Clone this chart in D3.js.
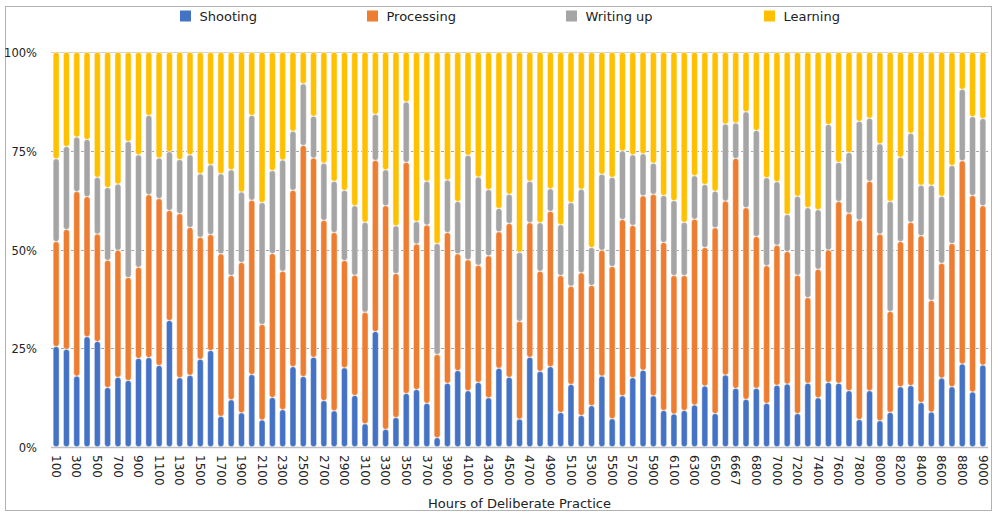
<!DOCTYPE html>
<html><head><meta charset="utf-8">
<script src="https://cdn.jsdelivr.net/npm/d3@7/dist/d3.min.js"></script>
<style>body{margin:0;background:#fff} svg{display:block;font-family:"DejaVu Sans",sans-serif}</style>
</head><body><svg id="c" width="1000" height="530"></svg>
<script>
const categories = ["100","200","300","400","500","600","700","800","900","1000",
"1100","1200","1300","1400","1500","1600","1700","1800","1900","2000",
"2100","2200","2300","2400","2500","2600","2700","2800","2900","3000",
"3100","3200","3300","3400","3500","3600","3700","3800","3900","4000",
"4100","4200","4300","4400","4500","4600","4700","4800","4900","5000",
"5100","5200","5300","5400","5500","5600","5700","5800","5900","6000",
"6100","6200","6300","6400","6500","6600","6667","6700","6800","6900",
"7000","7100","7200","7300","7400","7500","7600","7700","7800","7900",
"8000","8100","8200","8300","8400","8500","8600","8700","8800","8900","9000"];

const shooting = [25.4,24.7,17.9,27.9,26.7,15.0,17.6,16.8,22.4,22.6,
20.6,32.0,17.5,18.1,22.2,24.4,7.7,11.9,8.6,18.3,
6.8,12.5,9.4,20.3,17.8,22.7,11.7,9.1,20.0,13.0,
5.8,29.2,4.4,7.4,13.5,14.5,11.0,2.3,16.1,19.3,
14.2,16.3,12.4,19.9,17.6,7.0,22.7,19.1,20.3,8.7,
15.8,7.9,10.4,17.9,7.1,12.9,17.5,19.4,12.9,9.2,
8.3,9.2,10.6,15.4,8.4,18.2,14.8,12.0,14.8,11.0,
15.6,15.9,8.4,16.1,12.4,16.3,16.1,14.2,6.9,14.2,
6.6,8.7,15.2,15.5,11.2,8.8,17.4,15.2,21.0,13.9,20.7];

const processing = [26.6,30.4,46.8,35.5,27.2,32.3,32.2,26.1,23.1,41.3,
42.3,27.9,41.6,37.5,30.9,29.4,41.2,31.5,38.1,44.2,
24.2,36.5,35.1,44.7,58.6,50.5,45.7,45.2,27.2,30.5,
28.3,43.4,56.7,36.5,58.6,36.9,45.2,21.1,38.2,29.6,
33.2,29.7,36.0,34.6,39.0,24.8,34.1,25.4,39.4,34.7,
24.9,36.2,30.5,31.9,38.6,44.7,38.6,44.2,51.1,42.6,
35.1,34.2,47.1,35.1,47.1,44.1,58.3,48.6,38.5,34.9,
35.5,33.6,35.1,21.7,32.6,33.6,46.1,45.0,50.6,53.1,
47.3,25.6,36.8,41.4,42.3,28.3,29.1,36.3,51.5,49.8,40.4];

const writingUp = [21.0,21.0,13.8,14.5,14.4,18.4,16.8,34.5,28.5,20.1,
10.3,14.9,13.7,18.4,16.1,17.7,20.3,26.8,17.9,21.5,
30.9,21.0,28.2,15.0,15.6,10.6,14.5,13.0,17.8,17.6,
22.8,11.7,9.1,12.1,15.3,5.7,11.1,28.1,13.3,13.3,
26.5,22.4,16.8,5.9,7.4,17.5,10.5,12.3,5.7,12.9,
21.2,21.2,9.6,19.3,22.6,17.4,17.9,10.7,7.9,11.9,
19.0,13.5,11.0,16.0,9.3,19.5,9.0,24.3,26.9,22.3,
16.1,9.4,20.0,22.8,15.1,31.8,9.9,15.4,25.0,16.0,
22.9,27.9,21.4,22.6,12.8,29.2,17.0,19.8,18.1,20.0,22.1];

const learning = [27.0,23.9,21.5,22.1,31.7,34.3,33.4,22.6,26.0,16.0,
26.8,25.2,27.2,26.0,30.8,28.5,30.8,29.8,35.4,16.0,
38.1,30.0,27.3,20.0,8.0,16.2,28.1,32.7,35.0,38.9,
43.1,15.7,29.8,44.0,12.6,42.9,32.7,48.5,32.4,37.8,
26.1,31.6,34.8,39.6,36.0,50.7,32.7,43.2,34.6,43.7,
38.1,34.7,49.5,30.9,31.7,25.0,26.0,25.7,28.1,36.3,
37.6,43.1,31.3,33.5,35.2,18.2,17.9,15.1,19.8,31.8,
32.8,41.1,36.5,39.4,39.9,18.3,27.9,25.4,17.5,16.7,
23.2,37.8,26.6,20.5,33.7,33.7,36.5,28.7,9.4,16.3,16.8];

const seriesNames = ["Shooting","Processing","Writing up","Learning"];
const seriesColors = ["#4472C4","#ED7D31","#A5A5A5","#FFC000"];
const yTicks = [0,25,50,75,100];
const xLabelCategories = categories.filter((d,i)=>i%2===0);

const svg = d3.select("#c");
const W = 1000, H = 530;

// chart border
svg.append("rect").attr("x",5.5).attr("y",6.5).attr("width",986).attr("height",504)
  .attr("fill","#fff").attr("stroke","#b3b3b3").attr("stroke-width",1);

const x = d3.scaleBand().domain(categories).range([51,988]).paddingInner(0.42).paddingOuter(0.21);
const y = d3.scaleLinear().domain([0,100]).range([446.7,52.3]);

// gridlines
const grid = svg.append("g");
yTicks.forEach(t=>{
  const yy = Math.round(y(t))+0.5;
  const ln = grid.append("line").attr("x1",51).attr("x2",988).attr("y1",yy).attr("y2",yy);
  if (t===0) ln.attr("stroke","#bfbfbf").attr("stroke-width",1.5);
  else if (t===100) ln.attr("stroke","#d4d4d4").attr("stroke-width",1.2);
  else ln.attr("stroke","#a6a6a6").attr("stroke-width",1).attr("stroke-dasharray","3,2");
});

// y axis labels
const yAxis = d3.axisLeft(y).tickValues(yTicks).tickSize(0).tickPadding(14).tickFormat(d=>d+"%");
const gy = svg.append("g").attr("transform","translate(51,0)").call(yAxis);
gy.select(".domain").remove();
gy.selectAll("text").attr("font-size",11.5).attr("fill","#222").attr("font-family","DejaVu Sans").attr("dy","0.4em");

// stacked data
const rows = categories.map((c,i)=>({cat:c, s0:shooting[i], s1:processing[i], s2:writingUp[i], s3:learning[i]}));
const keys = ["s0","s1","s2","s3"];
const stacked = d3.stack().keys(keys)(rows);

const gb = svg.append("g");
stacked.forEach((layer,k)=>{
  gb.selectAll(null).data(layer).enter().append("rect")
    .attr("x",d=>x(d.data.cat))
    .attr("width",x.bandwidth())
    .attr("y",d=>y(d[1]))
    .attr("height",d=>Math.max(0,y(d[0])-y(d[1])))
    .attr("rx",3).attr("ry",3)
    .attr("fill",seriesColors[k])
    .attr("stroke","#ffffff").attr("stroke-opacity",0.55).attr("stroke-width",0.8);
});

// x axis labels
const xAxis = d3.axisBottom(x).tickValues(xLabelCategories).tickSize(0);
const gx = svg.append("g").attr("transform",`translate(0,${y(0)})`).call(xAxis);
gx.select(".domain").remove();
gx.selectAll("text")
  .attr("font-size",12).attr("fill","#222").attr("font-family","DejaVu Sans")
  .attr("text-anchor","start")
  .attr("x",8.3).attr("y",0).attr("dy","0.36em")
  .attr("transform","rotate(90)");

// axis title
svg.append("text").attr("x",519.5).attr("y",508).attr("text-anchor","middle")
  .attr("font-size",13).attr("fill","#222").text("Hours of Deliberate Practice");

// legend
const legendX = [180,367,566,764];
const lg = svg.append("g");
seriesNames.forEach((n,i)=>{
  lg.append("rect").attr("x",legendX[i]).attr("y",10.5).attr("width",11).attr("height",11).attr("fill",seriesColors[i]);
  lg.append("text").attr("x",legendX[i]+19.5).attr("y",20.7).attr("font-size",13).attr("fill","#222").text(n);
});
</script></body></html>
